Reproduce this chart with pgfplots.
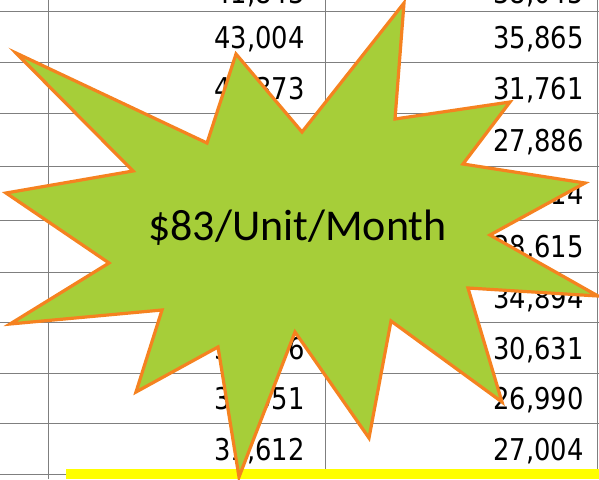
\documentclass[border=0pt]{standalone}
\usepackage{pgfplots}
\pgfplotsset{compat=1.18}
\usepackage{pgfplotstable}
\usepackage{fontspec}
\newfontfamily\numfont[FakeStretch=0.86]{DejaVu Sans}
\newfontfamily\carlito{Carlito}
\definecolor{stargreen}{HTML}{A6CE39}
\definecolor{starorange}{HTML}{F58220}
\definecolor{gridgray}{HTML}{7F7F7F}
\definecolor{hiyellow}{HTML}{FFFF00}
\pgfplotstableread{
x y label
305 -6 41,843
305 39 43,004
305 90 40,373
305 142 37,512
305 195 39,207
305 248 42,118
305 299 41,950
305 350 38,466
305 400 32,051
305 451 31,612
584 -6 38,045
584 39 35,865
584 90 31,761
584 142 27,886
584 195 32,714
584 248 28,615
584 299 34,894
584 350 30,631
584 400 26,990
584 451 27,004
}\cells
\pgfplotsset{canvas/.style={
  at={(0,0)}, anchor=south west,
  scale only axis, width=599pt, height=479pt,
  xmin=0, xmax=599, ymin=0, ymax=479, y dir=reverse,
  hide axis, clip=false}}
\begin{document}
\begin{tikzpicture}
\useasboundingbox (0,0) rectangle (599pt,479pt);
\clip (0,0) rectangle (599pt,479pt);
\begin{axis}[canvas]
% horizontal rules
\addplot[gridgray, line width=1pt] coordinates {(0,12)(599,12)};
\addplot[gridgray, line width=1pt] coordinates {(0,62)(599,62)};
\addplot[gridgray, line width=1pt] coordinates {(0,113)(599,113)};
\addplot[gridgray, line width=1pt] coordinates {(0,166)(599,166)};
\addplot[gridgray, line width=1pt] coordinates {(0,220)(599,220)};
\addplot[gridgray, line width=1pt] coordinates {(0,272)(599,272)};
\addplot[gridgray, line width=1pt] coordinates {(0,322)(599,322)};
\addplot[gridgray, line width=1pt] coordinates {(0,373)(599,373)};
\addplot[gridgray, line width=1pt] coordinates {(0,423)(599,423)};
\addplot[gridgray, line width=1pt] coordinates {(0,474)(599,474)};
% vertical rules
\addplot[gridgray, line width=1pt] coordinates {(48,0)(48,479)};
\addplot[gridgray, line width=1pt] coordinates {(325,0)(325,479)};
\addplot[gridgray, line width=1pt] coordinates {(597,0)(597,479)};
% cell values
\addplot[draw=none, mark=none, point meta=explicit symbolic,
  nodes near coords={\numfont\fontsize{30}{32}\selectfont\pgfplotspointmeta},
  nodes near coords style={anchor=east, inner sep=0pt, text=black}]
  table[x=x, y=y, meta=label] {\cells};
\end{axis}
\begin{axis}[canvas]
% yellow highlight
\addplot[fill=hiyellow, draw=none] coordinates {(66,469)(599,469)(599,479)(66,479)} -- cycle;
% starburst
\addplot[fill=stargreen, draw=starorange, line width=3.2pt, line join=miter, miter limit=20] coordinates {
(404,3)(395,119)(510,102)(463,164)(585,183)(490,235)(598,296)(468,288)
(502,402)(391,321)(369,438)(295,332)(239,477)(218,347)(136,392)(162,310)
(10,324)(109,263)(6,193)(133,171)(16,53)(207,143)(236,54)(302,132)
} -- cycle;
\node[anchor=base, inner sep=0pt] at (axis cs:297.5,240) {\carlito\fontsize{44}{50}\selectfont \$83/Unit/Month};
\end{axis}
\end{tikzpicture}
\end{document}
